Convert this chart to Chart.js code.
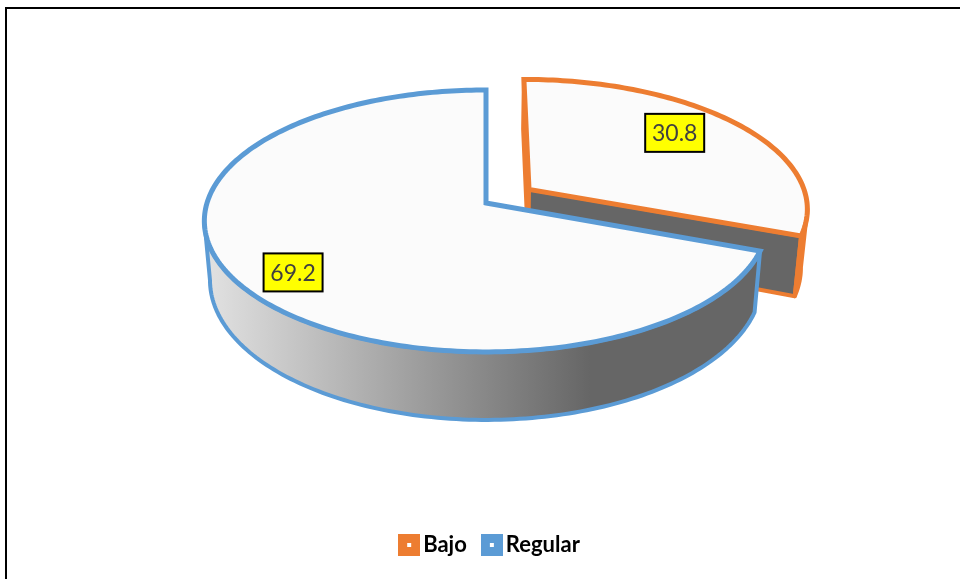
<!DOCTYPE html>
<html>
<head>
<meta charset="utf-8">
<title>Bajo / Regular</title>
<script src="https://cdn.jsdelivr.net/npm/chart.js@4"></script>
<style>
    html, body { margin: 0; padding: 0; background: #fff; overflow: hidden; }
    #frame { position: absolute; left: 5px; top: 7px; right: 0; bottom: 0; border-left: 2px solid #000; border-top: 2px solid #000; }
    canvas { position: absolute; left: 0; top: 0; }
</style>
</head>
<body>
<div id="frame"></div>
<canvas id="pieChart" width="960" height="579"></canvas>
<script>
const categories = ["Bajo", "Regular"];
const percentages = [30.8, 69.2];
const sliceColors = ["#ed7d31", "#5b9bd5"];
const explode = [0.19, 0];
const labelRadius = [0.75, 0.817];
const labelNudge = [-0.095, -0.06];

// flat disc -> screen, same perspective Excel gives a tilted 3D pie
const CX = 486, CY = 203, RX = 279, RY = 128.5, K = 0.137;
const DEPTH = 58, DEPTH_NEAR = 10, SHRINK = 0.98;

function project(u, v) {
    const d = 1 - K * v;
    return { x: CX + RX * u / d, y: CY + RY * v / d };
}

function lower(p) {
    return {
        x: CX + (p.x - CX) * SHRINK,
        y: p.y + DEPTH + DEPTH_NEAR * (p.y - CY) / 149
    };
}

function arcPoints(a0, a1, ou, ov) {
    const pts = [];
    const n = Math.max(2, Math.ceil(Math.abs(a1 - a0) / 0.02));
    for (let i = 0; i <= n; i++) {
        const a = a0 + (a1 - a0) * i / n;
        pts.push(project(ou + Math.cos(a), ov + Math.sin(a)));
    }
    return pts;
}

function tracePoly(ctx, pts) {
    ctx.beginPath();
    pts.forEach((p, i) => i ? ctx.lineTo(p.x, p.y) : ctx.moveTo(p.x, p.y));
    ctx.closePath();
}

// angle range of the rim that faces the viewer
function frontRange(ou, ov) {
    let aMax = 0, aMin = 0, xMax = -Infinity, xMin = Infinity;
    for (let a = -Math.PI / 2; a < Math.PI * 1.5; a += 0.005) {
        const p = project(ou + Math.cos(a), ov + Math.sin(a));
        if (p.x > xMax) { xMax = p.x; aMax = a; }
        if (p.x < xMin) { xMin = p.x; aMin = a; }
    }
    return [aMax, aMin];
}

const pie3d = {
    id: "pie3d",
    beforeDatasetsDraw(chart) {
        const ctx = chart.ctx;
        const arcs = chart.getDatasetMeta(0).data;
        ctx.save();

        arcs.forEach((arc, i) => {
            const { startAngle, endAngle } = arc.getProps(["startAngle", "endAngle"], true);
            const mid = (startAngle + endAngle) / 2;
            const ou = Math.cos(mid) * explode[i];
            const ov = Math.sin(mid) * explode[i];
            const apex = project(ou, ov);
            const color = sliceColors[i];
            const top = arcPoints(startAngle, endAngle, ou, ov);

            // ── SIDES ──
            const wallFill = ctx.createLinearGradient(212, 0, 590, 0);
            wallFill.addColorStop(0, "#e0e0e0");
            wallFill.addColorStop(1, "#666666");
            ctx.strokeStyle = color;
            ctx.lineWidth = 4;
            ctx.lineJoin = "round";

            if (i === 0) {
                [top[0], top[top.length - 1]].forEach(corner => {
                    tracePoly(ctx, [apex, corner, lower(corner), lower(apex)]);
                    ctx.fillStyle = "#666666";
                    ctx.fill();
                    ctx.stroke();
                });
            }

            const [aMax, aMin] = frontRange(ou, ov);
            const from = Math.max(startAngle, aMax);
            const to = Math.min(endAngle, aMin);
            if (to > from) {
                const rim = arcPoints(from, to, ou, ov);
                tracePoly(ctx, rim.concat(rim.map(lower).reverse()));
                ctx.fillStyle = i === 0 ? "#666666" : wallFill;
                ctx.fill();
                ctx.stroke();
            }

            // ── TOP FACE ──
            tracePoly(ctx, [apex].concat(top));
            ctx.fillStyle = "#fbfbfb";
            ctx.fill();
            ctx.lineWidth = 5;
            ctx.lineJoin = "miter";
            ctx.miterLimit = 3;
            ctx.stroke();
        });

        // ── VALUE BOXES ──
        ctx.font = "23px Lato";
        ctx.textAlign = "center";
        ctx.textBaseline = "middle";
        arcs.forEach((arc, i) => {
            const { startAngle, endAngle } = arc.getProps(["startAngle", "endAngle"], true);
            const mid = (startAngle + endAngle) / 2;
            const a = mid + labelNudge[i];
            const p = project(
                Math.cos(mid) * explode[i] + Math.cos(a) * labelRadius[i],
                Math.sin(mid) * explode[i] + Math.sin(a) * labelRadius[i]
            );
            ctx.fillStyle = "#ffff00";
            ctx.strokeStyle = "#000";
            ctx.lineWidth = 2;
            ctx.fillRect(p.x - 29.5, p.y - 19, 59, 38);
            ctx.strokeRect(p.x - 29.5, p.y - 19, 59, 38);
            ctx.fillStyle = "#404040";
            ctx.fillText(percentages[i].toFixed(1), p.x, p.y + 1);
        });

        ctx.restore();
        return false;
    }
};

function legendSwatch(color) {
    const c = document.createElement("canvas");
    c.width = 22;
    c.height = 22;
    const g = c.getContext("2d");
    g.fillStyle = color;
    g.fillRect(0, 0, 22, 22);
    g.fillStyle = "#fff";
    g.fillRect(9, 9, 4, 4);
    return c;
}

new Chart(document.getElementById("pieChart"), {
    type: "pie",
    plugins: [pie3d],
    data: {
        labels: categories,
        datasets: [{ data: percentages, backgroundColor: sliceColors }]
    },
    options: {
        responsive: false,
        animation: false,
        layout: { padding: { left: 26, bottom: 13 } },
        plugins: {
            tooltip: { enabled: false },
            legend: {
                position: "bottom",
                labels: {
                    usePointStyle: true,
                    pointStyleWidth: 6,
                    padding: 22,
                    color: "#000",
                    font: { family: "Lato", size: 22, weight: "bold" },
                    generateLabels: () => categories.map((name, i) => ({
                        text: name,
                        pointStyle: legendSwatch(sliceColors[i]),
                        fontColor: "#000",
                        hidden: false,
                        index: i
                    }))
                }
            }
        }
    }
});
</script>
</body>
</html>
